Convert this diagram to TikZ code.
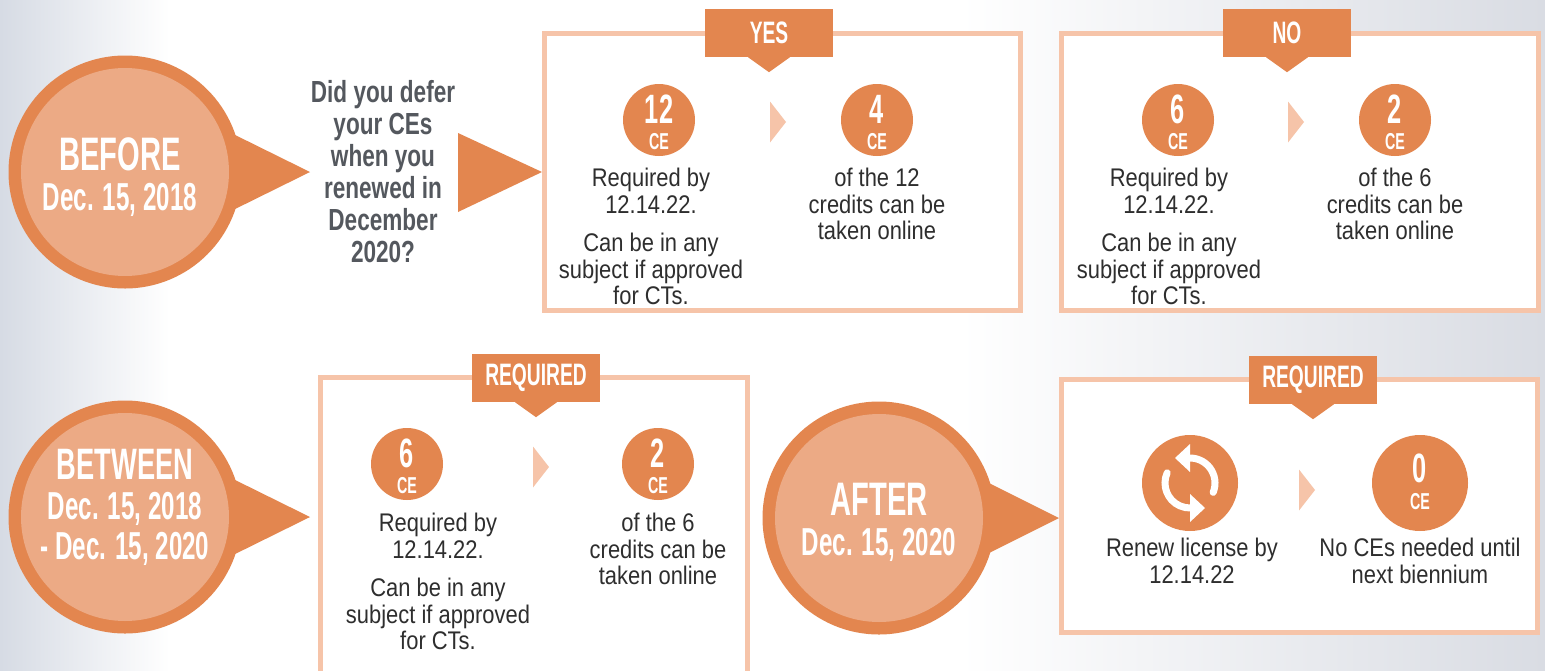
\documentclass[tikz,border=0pt]{standalone}
\usepackage{fontspec}
\setmainfont{Liberation Sans}
\newfontfamily\headfont[FakeStretch=0.62]{Liberation Sans}
\newfontfamily\askfont[FakeStretch=0.74]{Liberation Sans}
\newfontfamily\bodyfont[FakeStretch=0.86]{Liberation Sans}
\definecolor{rust}{HTML}{E3864F}
\definecolor{peach}{HTML}{ECAA85}
\definecolor{blush}{HTML}{F6C4A9}
\definecolor{ink}{HTML}{2E2E2E}
\definecolor{slate}{HTML}{54585E}
\definecolor{mistL}{HTML}{D6DBE4}
\definecolor{mistR}{HTML}{D9DCE3}
\begin{document}
\begin{tikzpicture}[x=1pt,y=-1pt,
	frame/.style={draw=blush,line width=5pt,fill=white,inner sep=0},
	tab/.style={fill=rust,text=white,minimum width=128pt,minimum height=48pt,inner sep=0,font=\headfont\bfseries\fontsize{31}{31}\selectfont},
	disc/.style={circle,fill=rust,inner sep=0},
	cenum/.style={text=white,inner sep=0,anchor=base,font=\headfont\bfseries\fontsize{41}{41}\selectfont},
	cetag/.style={text=white,inner sep=0,anchor=base,font=\headfont\bfseries\fontsize{23}{23}\selectfont},
	copy/.style={text=ink,inner sep=0,anchor=north,align=center,font=\bodyfont\fontsize{25.5}{26.5}\selectfont},
	rim/.style={circle,fill=rust,inner sep=0,minimum size=233pt},
	core/.style={circle,fill=peach,inner sep=0,minimum size=208pt},
	when/.style={text=white,inner sep=0,anchor=north,align=center,font=\headfont\bfseries\fontsize{39}{40}\selectfont}]
	\useasboundingbox (0,0) rectangle (1545,670);
	\fill[white] (0,0) rectangle (1545,670);
	\fill[left color=mistL,right color=white] (0,0) rectangle (170,670);
	\fill[left color=white,right color=mistR] (960,0) rectangle (1545,670);
	\node[frame,minimum width=476pt,minimum height=277pt] (yesbox) at (782.5,172) {};
	\node[frame,minimum width=477pt,minimum height=277pt] (nobox) at (1300,172) {};
	\node[frame,minimum width=427.5pt,minimum height=330pt] (reqbox) at (533.75,542.5) {};
	\node[frame,minimum width=476pt,minimum height=253pt] (afterbox) at (1299.5,506) {};
	\node[tab] (yes) at (769,33) {YES};
	\node[tab] (no) at (1287,33) {NO};
	\node[tab] (reqA) at (536,378) {REQUIRED};
	\node[tab] (reqB) at (1313,380) {REQUIRED};
	\foreach \t in {yes,no,reqA,reqB}
		\fill[rust] ([xshift=-21pt]\t.south) -- ([yshift=-15pt]\t.south) -- ([xshift=21pt]\t.south) -- cycle;
	\foreach \nm/\cx/\cy/\n in {dtwelve/659/120/12,dfour/877/120/4,dsix/1178/120/6,dtwo/1395/120/2,dsixB/407/464/6,dtwoB/658/464/2}{
		\node[disc,minimum size=72pt] (\nm) at (\cx,\cy) {};
		\node[cenum] (\nm num) at (\cx,\cy+3) {\n};
		\node[cetag] (\nm ce) at (\cx,\cy+29) {CE};
	}
	\node[disc,minimum size=96pt] (dzero) at (1420,483) {};
	\node[cenum] (dzeronum) at (1420,482) {0};
	\node[cetag] (dzeroce) at (1420,509) {CE};
	\node[disc,minimum size=96pt] (renew) at (1190,483) {};
	\begin{scope}[shift={(renew.center)},yscale=-1]
		\draw[white,line width=7pt,line cap=round] (-22:25) arc[start angle=-22,end angle=92,radius=25];
		\draw[white,line width=7pt,line cap=round] (156:25) arc[start angle=156,end angle=272,radius=25];
		\fill[white] (0,39) -- (-15,25) -- (0,11) -- cycle;
		\fill[white] (0,-39) -- (15,-25) -- (0,-11) -- cycle;
	\end{scope}
	\foreach \cx/\cy in {770/122,1288/122,533/467,1299/490}
		\fill[blush] (\cx,\cy-20.5) -- (\cx+16,\cy) -- (\cx,\cy+20.5) -- cycle;
	\node[copy] (yesreq) at (651,168) {Required by\\12.14.22.\\[12pt]Can be in any\\subject if approved\\for CTs.};
	\node[copy] (yesweb) at (877,168) {of the 12\\credits can be\\taken online};
	\node[copy] (noreq) at (1169,168) {Required by\\12.14.22.\\[12pt]Can be in any\\subject if approved\\for CTs.};
	\node[copy] (noweb) at (1395,168) {of the 6\\credits can be\\taken online};
	\node[copy] (reqreq) at (438,513) {Required by\\12.14.22.\\[12pt]Can be in any\\subject if approved\\for CTs.};
	\node[copy] (reqweb) at (658,513) {of the 6\\credits can be\\taken online};
	\node[copy] (renewtxt) at (1192,538) {Renew license by\\12.14.22};
	\node[copy] (zerotxt) at (1420,538) {No CEs needed until\\next biennium};
	\node[text=slate,inner sep=0,anchor=north,align=center,font=\askfont\bfseries\fontsize{30.5}{32}\selectfont] (ask) at (383,80) {Did you defer\\your CEs\\when you\\renewed in\\December\\2020?};
	\fill[rust] (458,133) -- (yesbox.west |- 0,172) -- (458,212) -- cycle;
	\fill[rust] (225,130) -- (310,172) -- (225,214) -- cycle;
	\node[rim] (before) at (125,172) {};
	\node[core] (beforecore) at (before) {};
	\node[when] (beforetxt) at (120,137) {{\fontsize{47}{40}\selectfont BEFORE}\\Dec. 15, 2018};
	\fill[rust] (225,475) -- (310,517) -- (225,559) -- cycle;
	\node[rim] (between) at (125,517) {};
	\node[core] (betweencore) at (between) {};
	\node[when] (betweentxt) at (125,449) {{\fontsize{44}{40}\selectfont BETWEEN}\\Dec. 15, 2018\\- Dec. 15, 2020};
	\fill[rust] (975,476) -- (afterbox.west |- 0,518) -- (975,560) -- cycle;
	\node[rim] (after) at (879,518) {};
	\node[core] (aftercore) at (after) {};
	\node[when] (aftertxt) at (879,483) {{\fontsize{47}{40}\selectfont AFTER}\\Dec. 15, 2020};
\end{tikzpicture}
\end{document}
